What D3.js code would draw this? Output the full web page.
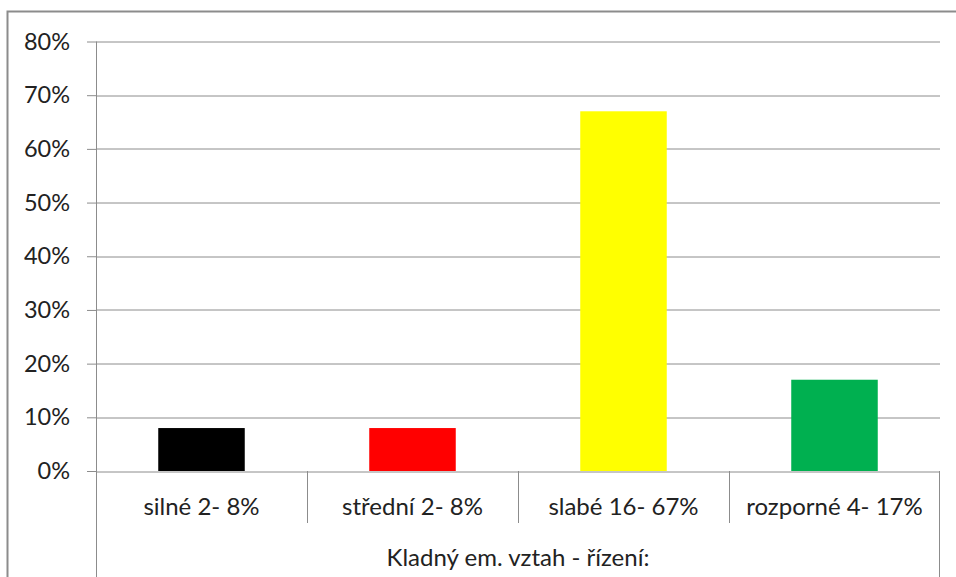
<!DOCTYPE html>
<html>
<head>
<meta charset="utf-8">
<script src="https://cdn.jsdelivr.net/npm/d3@7"></script>
<style>
  body { margin: 0; background: #fff; }
  text { font-family: Lato, "Open Sans", sans-serif; fill: #222; }
</style>
</head>
<body>
<div id="chart"></div>
<script>
// data
var categories = ["silné 2- 8%", "střední 2- 8%", "slabé 16- 67%", "rozporné 4- 17%"];
var values = [8, 8, 67, 17];
var barColors = ["#000000", "#ff0000", "#ffff00", "#00b050"];
var yTicks = [0, 10, 20, 30, 40, 50, 60, 70, 80];
var groupLabel = "Kladný em. vztah - řízení:";

var svgWidth = 956;
var svgHeight = 577;

var margin = { top: 41.5, right: 16, bottom: 106, left: 96 };
var chartWidth = 940 - margin.left;
var chartHeight = 471 - margin.top;

var svg = d3.select("#chart")
    .append("svg")
    .attr("width", svgWidth)
    .attr("height", svgHeight);

// outer chart border
svg.append("rect")
    .attr("x", 7.5)
    .attr("y", 11.5)
    .attr("width", 970)
    .attr("height", 600)
    .attr("fill", "none")
    .attr("stroke", "#8c8c8c")
    .attr("stroke-width", 2);

var chartGroup = svg.append("g")
    .attr("transform", `translate(${margin.left}, ${margin.top})`);

// scales
var xScale = d3.scaleBand()
    .domain(categories)
    .range([0, chartWidth])
    .paddingInner(0.59)
    .paddingOuter(0.295);

var xGroups = d3.scaleBand()
    .domain(categories)
    .range([0, chartWidth]);

var yScale = d3.scaleLinear()
    .domain([0, 80])
    .range([chartHeight, 0]);

// gridlines
chartGroup.selectAll(".grid")
    .data(yTicks)
    .enter()
    .append("line")
    .attr("x1", 0)
    .attr("x2", chartWidth)
    .attr("y1", d => Math.round(yScale(d)) + 0.5)
    .attr("y2", d => Math.round(yScale(d)) + 0.5)
    .attr("stroke", "#8c8c8c")
    .attr("stroke-width", 1);

// bars
chartGroup.selectAll(".bar")
    .data(values)
    .enter()
    .append("rect")
    .attr("x", (d, i) => xScale(categories[i]))
    .attr("y", d => yScale(d))
    .attr("width", xScale.bandwidth())
    .attr("height", d => yScale(0) - yScale(d))
    .attr("fill", (d, i) => barColors[i]);

// y axis
var yAxis = d3.axisLeft(yScale)
    .tickValues(yTicks)
    .tickSize(9)
    .tickPadding(17)
    .tickFormat(d => d + "%");

var yAxisGroup = chartGroup.append("g")
    .call(yAxis);
yAxisGroup.select(".domain").remove();
yAxisGroup.selectAll("line").attr("stroke", "#8c8c8c");
yAxisGroup.selectAll("text")
    .style("font-size", "23.5px")
    .style("font-family", "Lato, sans-serif")
    .attr("fill", "#222");

// y axis line goes down to the bottom of the chart
chartGroup.append("line")
    .attr("x1", 0.5).attr("x2", 0.5)
    .attr("y1", 0).attr("y2", svgHeight)
    .attr("stroke", "#8c8c8c");

// category separators (first level)
chartGroup.selectAll(".sep")
    .data(categories.slice(1))
    .enter()
    .append("line")
    .attr("x1", d => Math.round(xGroups(d)) + 0.5)
    .attr("x2", d => Math.round(xGroups(d)) + 0.5)
    .attr("y1", chartHeight)
    .attr("y2", chartHeight + 52)
    .attr("stroke", "#8c8c8c");

// right end line goes to the bottom
chartGroup.append("line")
    .attr("x1", chartWidth - 0.5).attr("x2", chartWidth - 0.5)
    .attr("y1", chartHeight).attr("y2", svgHeight)
    .attr("stroke", "#8c8c8c");

// category labels
chartGroup.selectAll(".cat")
    .data(categories)
    .enter()
    .append("text")
    .attr("x", d => xGroups(d) + xGroups.bandwidth() / 2)
    .attr("y", chartHeight + 44)
    .attr("text-anchor", "middle")
    .style("font-size", "24px")
    .text(d => d);

// second level label
chartGroup.append("text")
    .attr("x", chartWidth / 2)
    .attr("y", chartHeight + 95)
    .attr("text-anchor", "middle")
    .style("font-size", "24px")
    .text(groupLabel);
</script>
</body>
</html>
